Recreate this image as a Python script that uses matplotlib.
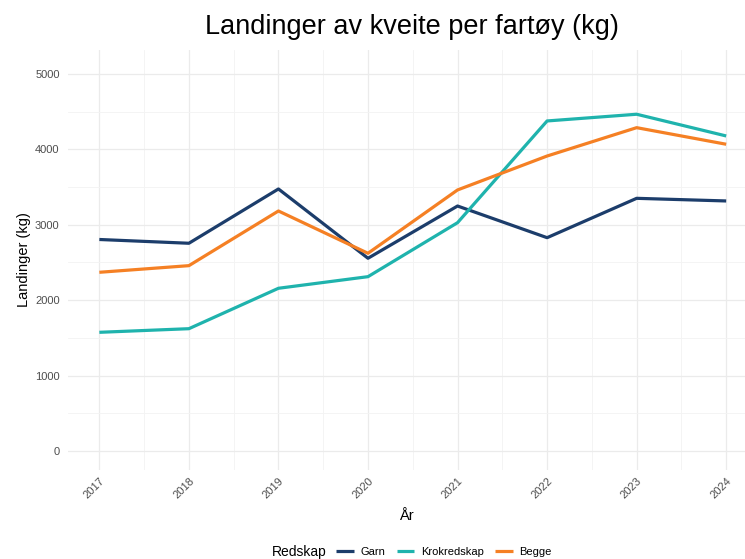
import matplotlib.pyplot as plt
from matplotlib.ticker import MultipleLocator

years = [2017, 2018, 2019, 2020, 2021, 2022, 2023, 2024]
garn = [2805, 2755, 3475, 2556, 3249, 2829, 3351, 3316]
krok = [1574, 1622, 2158, 2312, 3028, 4377, 4466, 4178]
begge = [2370, 2458, 3183, 2622, 3462, 3912, 4288, 4068]

series = ["Garn", "Krokredskap", "Begge"]
colors = ["#1c3d6b", "#1fb3ad", "#f58024"]

plt.rcParams['font.family'] = ['Liberation Sans', 'DejaVu Sans']

fig = plt.figure(figsize=(7.45, 5.59), dpi=100)
ax = fig.add_axes([68/745, 1-470/559, 1-68/745, 420/559])

for vals, name, c in zip([garn, krok, begge], series, colors):
    ax.plot(years, vals, color=c, lw=2.3, label=name, solid_capstyle='butt')

ax.set_xlim(2016.65, 2024.21)
ax.set_ylim(-252, 5318)
ax.xaxis.set_major_locator(MultipleLocator(1))
ax.xaxis.set_minor_locator(MultipleLocator(0.5))
ax.yaxis.set_major_locator(MultipleLocator(1000))
ax.yaxis.set_minor_locator(MultipleLocator(500))
ax.grid(which='major', color='#ebebeb', lw=0.9)
ax.grid(which='minor', color='#f3f3f3', lw=0.6)
ax.set_axisbelow(True)
for s in ax.spines.values():
    s.set_visible(False)
ax.tick_params(which='both', length=0)
ax.tick_params(axis='y', labelsize=8, labelcolor='#4d4d4d', pad=6)
ax.tick_params(axis='x', labelsize=8, labelcolor='#4d4d4d', pad=4)
ax.set_xticks(years)
ax.set_xticklabels([str(y) for y in years], rotation=45, ha='right', va='top',
                   rotation_mode='anchor')
ax.set_xlabel("År", fontsize=10.5, labelpad=6)
ax.set_ylabel("Landinger (kg)", fontsize=10.5, labelpad=3)

fig.text(412/745, 1-27/559, "Landinger av kveite per fartøy (kg)", fontsize=19.5,
         ha='center', va='center')

fig.text(272/745, 1-552/559, "Redskap", fontsize=10, ha='left', va='center')
fig.legend(*ax.get_legend_handles_labels(), loc='center', ncol=3,
           bbox_to_anchor=(444/745, 1-552/559), frameon=False, fontsize=8,
           handlelength=1.6, handletextpad=0.6, columnspacing=1.0,
           borderpad=0)

fig.savefig("out.png", dpi=100)
